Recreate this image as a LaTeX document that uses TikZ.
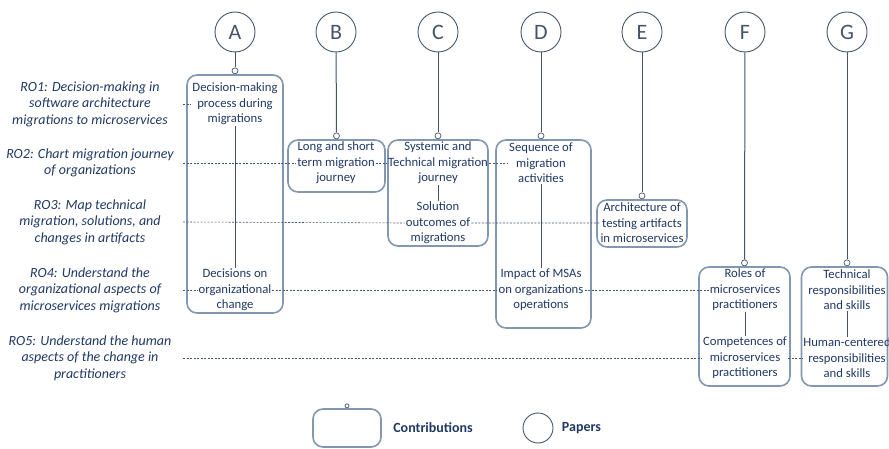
\documentclass[tikz,border=0pt]{standalone}
\usepackage{fontspec}
\setmainfont{Carlito}
\usetikzlibrary{positioning}
\definecolor{navy}{HTML}{1F3864}
\definecolor{boxgray}{HTML}{8497B0}
\definecolor{slate}{HTML}{44546A}
\begin{document}
\begin{tikzpicture}[x=1pt,y=-1pt,
  paper/.style={circle,draw=slate,line width=0.9pt,minimum size=40pt,inner sep=0pt,
    text=slate,font=\fontsize{22}{24}\selectfont},
  contrib/.style={draw=boxgray,line width=1.6pt,rounded corners=10pt,inner sep=0pt},
  item/.style={align=center,text=navy,inner sep=1pt,font=\fontsize{12.7}{15.5}\selectfont},
  rolabel/.style={align=center,text=navy,inner sep=0pt,font=\fontsize{14}{16.5}\selectfont\itshape},
  knob/.style={circle,draw=slate,fill=white,line width=0.7pt,minimum size=6pt,inner sep=0pt,anchor=south},
  link/.style={draw=slate,line width=1pt},
  roline/.style={draw=slate,line width=0.6pt,dash pattern=on 2pt off 1.5pt},
  legend/.style={text=navy,font=\fontsize{14}{16}\selectfont\bfseries}]

\useasboundingbox (0,0) rectangle (889,449);

\node[paper] (A) at (235,32) {A};
\node[paper] (B) at (336,32) {B};
\node[paper] (C) at (438,32) {C};
\node[paper] (D) at (541,32) {D};
\node[paper] (E) at (642,32) {E};
\node[paper] (F) at (745,32) {F};
\node[paper] (G) at (847,32) {G};

\node[contrib,minimum width=96pt,minimum height=238pt] (boxA) at (235,194) {};
\node[contrib,minimum width=97pt,minimum height=52pt] (boxB) at (336.5,166) {};
\node[contrib,minimum width=100pt,minimum height=106pt] (boxC) at (438,193) {};
\node[contrib,minimum width=95pt,minimum height=188pt] (boxD) at (543.5,234) {};
\node[contrib,minimum width=90pt,minimum height=47pt] (boxE) at (642,223.5) {};
\node[contrib,minimum width=91pt,minimum height=119pt] (boxF) at (744.5,326.5) {};
\node[contrib,minimum width=86pt,minimum height=119pt] (boxG) at (844.5,326.5) {};

\node[knob] (kA) at (boxA.north) {};
\node[knob] (kB) at (boxB.north) {};
\node[knob] (kC) at (boxC.north) {};
\node[knob] (kD) at ([xshift=-2.5pt]boxD.north) {};
\node[knob] (kE) at (boxE.north) {};
\node[knob] (kF) at (boxF.north) {};
\node[knob] (kG) at ([xshift=2.5pt]boxG.north) {};
\draw[link] (A) -- (kA);
\draw[link] (B) -- (kB);
\draw[link] (C) -- (kC);
\draw[link] (D) -- (kD);
\draw[link] (E) -- (kE);
\draw[link] (F) -- (kF);
\draw[link] (G) -- (kG);

\node[item] (a1) at (235,104) {Decision-making\\process during\\migrations};
\node[item] (a2) at (235,290) {Decisions on\\organizational\\change};
\node[item] (b1) at (336,163) {Long and short\\term migration\\journey};
\node[item] (c1) at (438,163) {Systemic and\\Technical migration\\journey};
\node[item] (c2) at (438,223) {Solution\\outcomes of\\migrations};
\node[item] (d1) at (541,163) {Sequence of\\migration\\activities};
\node[item] (d2) at (541,290) {Impact of MSAs\\on organizations\\operations};
\node[item] (e1) at (642,223) {Architecture of\\testing artifacts\\in microservices};
\node[item] (f1) at (745,290) {Roles of\\microservices\\practitioners};
\node[item] (f2) at (745,358) {Competences of\\microservices\\practitioners};
\node[item] (g1) at (847,290) {Technical\\responsibilities\\and skills};
\node[item] (g2) at (847,358) {Human-centered\\responsibilities\\and skills};

\draw[slate,line width=0.8pt] (a1) -- (a2);
\draw[slate,line width=0.8pt] (c1) -- (c2);
\draw[slate,line width=0.8pt] (d1) -- (d2);
\draw[slate,line width=0.8pt] (f1) -- (f2);
\draw[slate,line width=0.8pt] (g1) -- (g2);

\node[rolabel] (ro1) at (90,104) {RO1: Decision-making in\\software architecture\\migrations to microservices};
\node[rolabel] (ro2) at (90,163) {RO2: Chart migration journey\\of organizations};
\node[rolabel] (ro3) at (90,222) {RO3: Map technical\\migration, solutions, and\\changes in artifacts};
\node[rolabel] (ro4) at (90,290) {RO4: Understand the\\organizational aspects of\\microservices migrations};
\node[rolabel] (ro5) at (90,358) {RO5: Understand the human\\aspects of the change in\\practitioners};

\coordinate (st) at ([xshift=-3pt]boxA.west);
\draw[roline] (st |- ro1) -- (a1.west);
\draw[roline] (st |- ro2) -- (b1.west) (b1.east) -- (c1.west) (c1.east) -- (d1.west);
\draw[roline] (st |- ro3) -- (c2.west) (c2.east) -- (e1.west);
\draw[roline] (st |- ro4) -- (a2.west) (a2.east) -- (d2.west) (d2.east) -- (f1.west);
\draw[roline] (st |- ro5) -- (f2.west) (f2.east) -- (g2.west);

\node[contrib,minimum width=68pt,minimum height=38pt] (legbox) at (347,428) {};
\node[knob,minimum size=4pt] (legknob) at (legbox.north) {};
\node[legend,right=8pt of legbox] (legc) {Contributions};
\node[paper,minimum size=30pt] (legpaper) at (538,428) {};
\node[legend,right=5pt of legpaper] (legp) {Papers};

\end{tikzpicture}
\end{document}
